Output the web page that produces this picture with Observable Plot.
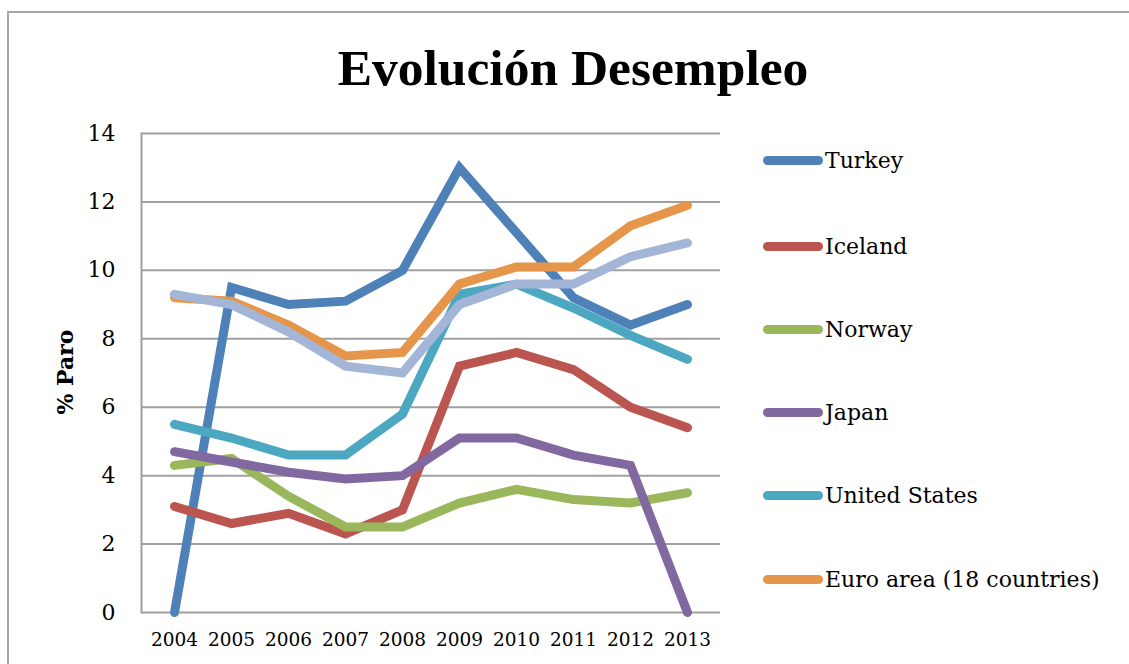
<!DOCTYPE html>
<html>
<head>
<meta charset="utf-8">
<script src="https://cdn.jsdelivr.net/npm/d3@7"></script>
<script src="https://cdn.jsdelivr.net/npm/@observablehq/plot@0.6"></script>
<style>
  html, body { margin: 0; padding: 0; background: #fff; }
  #wrap { position: relative; width: 1129px; height: 664px; overflow: hidden; font-family: "DejaVu Serif", serif; color: #000; }
  #wrap svg { position: absolute; left: 0; top: 0; }
  .frame-top { position: absolute; left: 8px; top: 11px; right: 0; height: 2px; background: #a6a6a6; }
  .frame-left { position: absolute; left: 7px; top: 11px; width: 2px; bottom: 0; background: #a6a6a6; }
  #title { position: absolute; left: 0; width: 1146px; top: 38px; text-align: center; font-family: "Liberation Serif", serif; font-weight: bold; font-size: 51.5px; line-height: 60px; }
  #ylabel { position: absolute; left: 65px; top: 372px; transform: translate(-50%, -50%) rotate(-90deg); font-weight: bold; font-size: 22px; white-space: nowrap; }
  #legend { position: absolute; left: 763px; top: 0; }
  .item { position: absolute; left: 0; height: 40px; display: flex; align-items: center; white-space: nowrap; font-size: 22px; }
  .swatch { width: 60px; height: 9px; border-radius: 5px; margin-right: 2px; }
</style>
</head>
<body>
<div id="wrap">
  <div class="frame-top"></div>
  <div class="frame-left"></div>
  <div id="title">Evolución Desempleo</div>
  <div id="ylabel">% Paro</div>
  <div id="legend"></div>
</div>
<script>
// Unemployment rate (%) by year
const years = ["2004", "2005", "2006", "2007", "2008", "2009", "2010", "2011", "2012", "2013"];

const turkey       = [0.0, 9.5, 9.0, 9.1, 10.0, 13.0, 11.1, 9.2, 8.4, 9.0];
const iceland      = [3.1, 2.6, 2.9, 2.3, 3.0, 7.2, 7.6, 7.1, 6.0, 5.4];
const norway       = [4.3, 4.5, 3.4, 2.5, 2.5, 3.2, 3.6, 3.3, 3.2, 3.5];
const japan        = [4.7, 4.4, 4.1, 3.9, 4.0, 5.1, 5.1, 4.6, 4.3, 0.0];
const unitedStates = [5.5, 5.1, 4.6, 4.6, 5.8, 9.3, 9.6, 8.9, 8.1, 7.4];
const euroArea     = [9.2, 9.1, 8.4, 7.5, 7.6, 9.6, 10.1, 10.1, 11.3, 11.9];
const europeanUnion = [9.3, 9.0, 8.2, 7.2, 7.0, 9.0, 9.6, 9.6, 10.4, 10.8];

const seriesNames = ["Turkey", "Iceland", "Norway", "Japan", "United States", "Euro area (18 countries)", "European Union (28 countries)"];
const seriesValues = [turkey, iceland, norway, japan, unitedStates, euroArea, europeanUnion];
const seriesColors = ["#4f81b9", "#bb5550", "#9bb75c", "#8168a0", "#4ba8c0", "#e6964a", "#a3b6d7"];
const legendNames = seriesNames.slice(0, 6);

const yTicks = [0, 2, 4, 6, 8, 10, 12, 14];

const rows = seriesNames.flatMap((name, s) =>
  years.map((year, i) => ({ serie: name, year, value: seriesValues[s][i] }))
);

const chart = Plot.plot({
  width: 1129,
  height: 664,
  marginLeft: 141,
  marginRight: 409,
  marginTop: 133,
  marginBottom: 52,
  style: { fontFamily: "'DejaVu Serif', serif", background: "transparent", color: "#000" },
  x: { type: "point", domain: years, padding: 0.5, label: null },
  y: { domain: [0, 14], label: null },
  color: { domain: seriesNames, range: seriesColors },
  marks: [
    Plot.gridY(yTicks.filter(d => d > 0), { stroke: "#a0a0a0", strokeOpacity: 1, strokeWidth: 2 }),
    Plot.ruleY([0], { stroke: "#a0a0a0", strokeWidth: 2 }),
    Plot.frame({ anchor: "left", stroke: "#a0a0a0", strokeWidth: 2 }),
    Plot.axisY(yTicks, { tickSize: 0, tickPadding: 26, fontSize: 22, label: null }),
    Plot.axisX({ tickSize: 0, tickPadding: 20, fontSize: 18.5, label: null }),
    Plot.lineY(rows, {
      x: "year", y: "value", z: "serie", stroke: "serie",
      strokeWidth: 9, strokeLinecap: "round", strokeLinejoin: "miter", strokeMiterlimit: 4
    })
  ]
});

document.getElementById("wrap").prepend(chart);

// Legend: one line swatch per series
const legend = d3.select("#legend");
const legendTops = [140, 226, 309, 392, 475, 559];
legendNames.forEach((name, i) => {
  const item = legend.append("div").attr("class", "item").style("top", legendTops[i] + "px");
  item.append("div").attr("class", "swatch").style("background", seriesColors[i]);
  item.append("span").text(name);
});
</script>
</body>
</html>
